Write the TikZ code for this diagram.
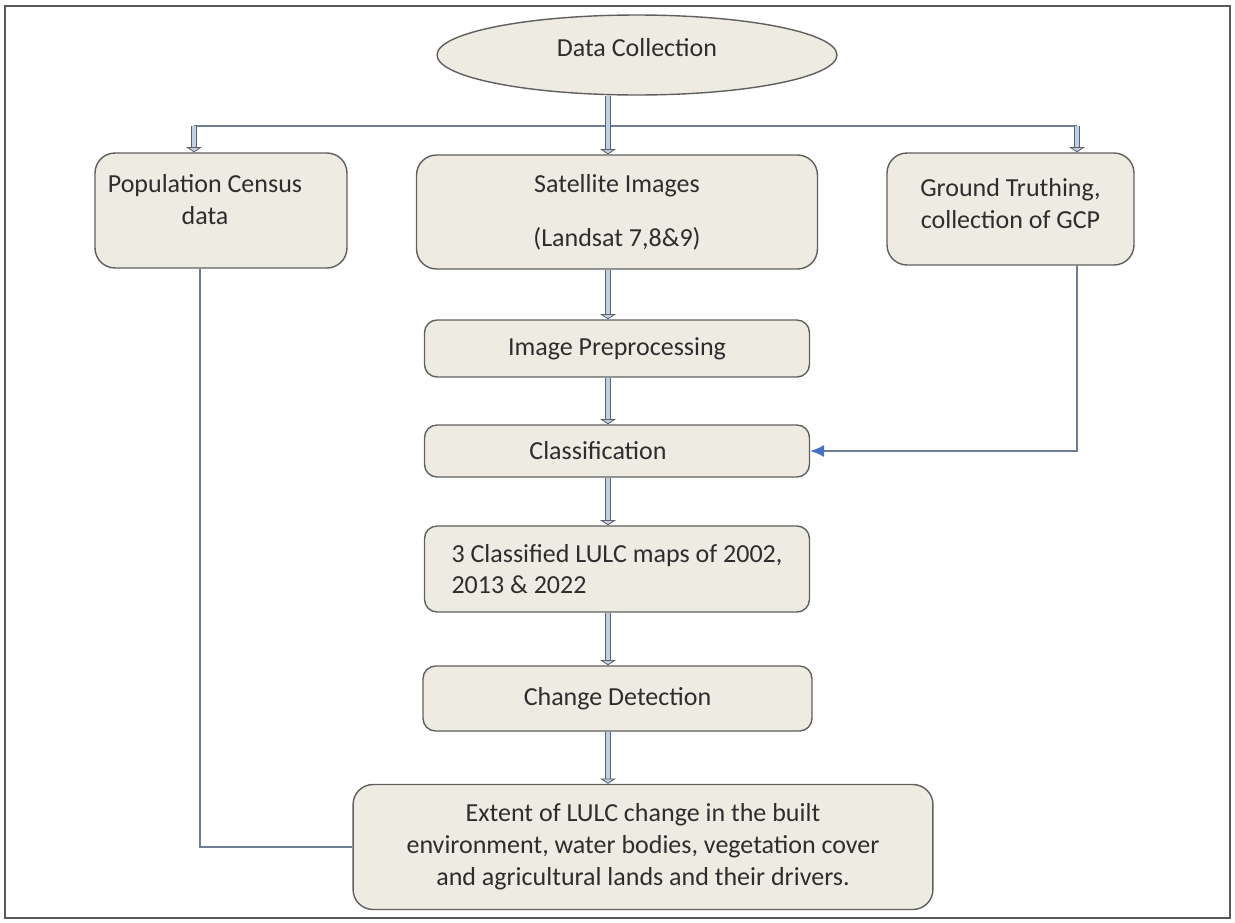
\documentclass[tikz,border=0pt]{standalone}
\usepackage{fontspec}
\setmainfont{Carlito}
\usepackage{tikz}
\usetikzlibrary{arrows.meta,shapes.geometric,calc}

\definecolor{boxfill}{RGB}{238,236,226}
\definecolor{boxline}{RGB}{95,95,95}
\definecolor{shaftfill}{RGB}{190,208,232}
\definecolor{linkline}{RGB}{110,125,150}
\definecolor{tipblue}{RGB}{68,114,196}
\definecolor{txt}{RGB}{45,45,45}

\begin{document}
\begin{tikzpicture}[x=0.02cm,y=-0.02cm,font=\fontsize{14.8}{18}\selectfont,>=Latex,
  box/.style={draw=boxline,fill=boxfill,rounded corners=2.5mm,align=center,inner sep=2pt,line width=0.8pt,text=txt},
  bigbox/.style={box,rounded corners=4mm},
  flow/.style={draw=gray!75!black,line width=0.5pt,double=shaftfill,double distance=0.09cm,-{Triangle[length=3pt,width=9pt,fill=shaftfill]}},
  link/.style={draw=linkline,line width=0.9pt}]
  \useasboundingbox (0,0) rectangle (1235,923);
  \draw[gray!70!black,line width=0.9pt] (5,6) rectangle (1230,918);

  % top of the chart
  \node[ellipse,draw=boxline,fill=boxfill,line width=0.8pt,text=txt,inner sep=0pt,
        minimum width=8.0cm,minimum height=1.6cm,text depth=0.3cm] (dc) at (637,55) {Data Collection};
  \node[bigbox,minimum width=5.04cm,minimum height=2.3cm,text depth=0.44cm] (pop) at (221,210.5) {Population Census\hspace*{0.64cm}\\data\hspace*{0.64cm}};
  \node[bigbox,minimum width=8.02cm,minimum height=2.28cm] (sat) at (617,212) {Satellite Images\\[0.44cm](Landsat 7,8\&9)};
  \node[bigbox,minimum width=4.94cm,minimum height=2.24cm,text depth=0.22cm] (gt) at (1010.5,209) {Ground Truthing,\\collection of GCP};

  % processing chain
  \node[box,minimum width=7.7cm,minimum height=1.14cm] (pre) at (617,348.5) {Image Preprocessing};
  \node[box,minimum width=7.7cm,minimum height=1.04cm] (cls) at (617,451) {Classification\hspace*{0.76cm}};
  \node[box,minimum width=7.7cm,minimum height=1.72cm,align=left] (lulc) at (617,569) {3 Classified LULC maps of 2002,\\2013 \& 2022};
  \node[box,minimum width=7.78cm,minimum height=1.3cm] (chg) at (617.5,698.5) {Change Detection};
  \node[bigbox,minimum width=11.6cm,minimum height=2.5cm,text depth=0.1cm] (ext) at (643,847) {Extent of LULC change in the built\\environment, water bodies, vegetation cover\\and agricultural lands and their drivers.};

  \coordinate (spine) at (608,0);
  \coordinate (barL) at (194,126);
  \coordinate (barR) at (1077,126);

  \draw[link] (barL) -- (barR);
  \draw[flow] (dc.south -| spine) -- (sat.north -| spine);
  \draw[flow] (barL) -- (pop.north -| barL);
  \draw[flow] (barR) -- (gt.north -| barR);
  \foreach \a/\b in {sat/pre,pre/cls,cls/lulc,lulc/chg,chg/ext}
    \draw[flow] (\a.south -| spine) -- (\b.north -| spine);

  \draw[link] (pop.south -| 200,0) |- (ext.west);
  \draw[link,-{Latex[length=8pt,width=7pt,color=tipblue]}] (gt.south -| barR) |- (cls.east);
\end{tikzpicture}
\end{document}
